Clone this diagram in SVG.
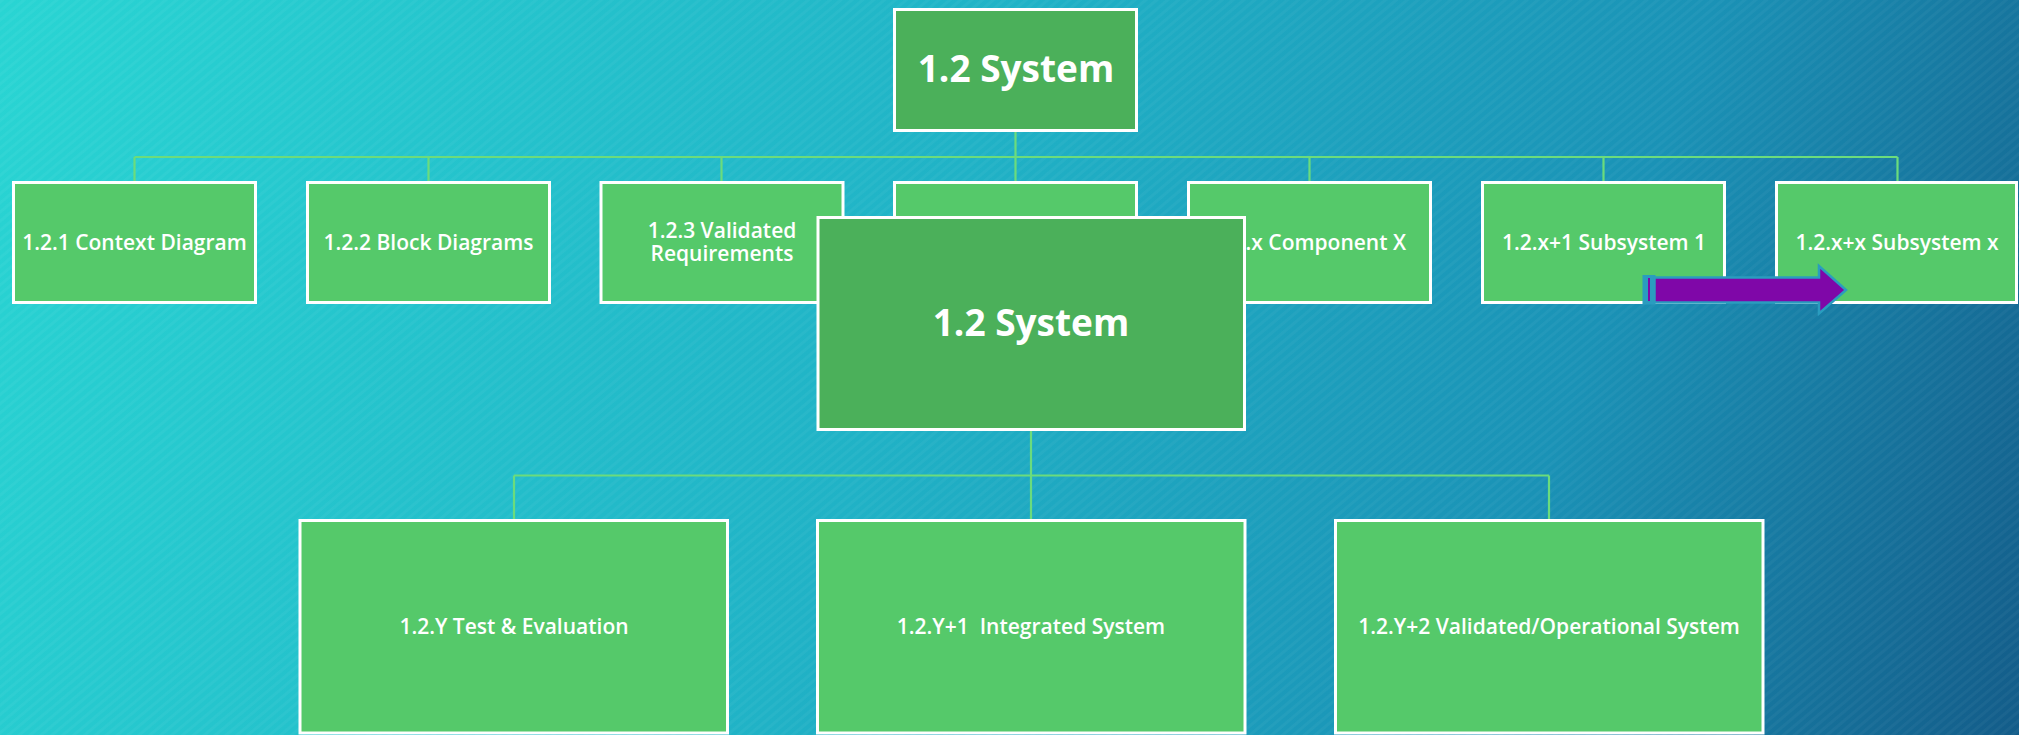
<svg xmlns="http://www.w3.org/2000/svg" width="2019" height="735" viewBox="0 0 2019 735">
  <defs>
    <linearGradient id="bg" gradientUnits="userSpaceOnUse" x1="0" y1="0" x2="2019" y2="735">
      <stop offset="0" stop-color="#29d5d3"/>
      <stop offset="0.45" stop-color="#20b2c6"/>
      <stop offset="0.75" stop-color="#1a92b6"/>
      <stop offset="1" stop-color="#135c89"/>
    </linearGradient>
    <pattern id="stripes" patternUnits="userSpaceOnUse" width="7" height="7" patternTransform="rotate(-40)">
      <rect x="0" y="0" width="7" height="3" fill="#ffffff" fill-opacity="0.035"/>
    </pattern>
    <style>
      .leaf { fill: #55c96a; stroke: #ffffff; stroke-width: 3; }
      .root { fill: #4bb05a; stroke: #ffffff; stroke-width: 3; }
      .lbl { font-family: "Open Sans", "Liberation Sans", sans-serif; font-weight: 600; font-size: 21px; fill: #ffffff; text-anchor: middle; }
      .big { font-family: "Open Sans", "Liberation Sans", sans-serif; font-weight: 700; font-size: 37px; fill: #ffffff; text-anchor: middle; }
      .link { fill: none; stroke: #6bdc7c; stroke-width: 2.2; }
    </style>
  </defs>

  <!-- backdrop -->
  <rect x="0" y="0" width="2019" height="735" fill="url(#bg)"/>
  <rect x="0" y="0" width="2019" height="735" fill="url(#stripes)"/>

  <!-- connectors -->
  <g id="connectors">
    <path class="link" d="M1015.5 131 V157 M134.5 157 H1897.5 M134.5 157 V182 M428.5 157 V182 M721.5 157 V182 M1015.5 157 V182 M1309.5 157 V182 M1603.5 157 V182 M1897.5 157 V182"/>
    <path class="link" d="M1031 430 V475.5 M514 475.5 H1549 M514 475.5 V520 M1031 475.5 V520 M1549 475.5 V520"/>
  </g>

  <!-- top level -->
  <g id="system-top">
    <rect class="root" x="894.5" y="9.5" width="242" height="121"/>
    <text class="big" x="1016" y="82">1.2 System</text>
  </g>

  <!-- first tier -->
  <g id="context-diagram">
    <rect class="leaf" x="13.5" y="182.5" width="242" height="120"/>
    <text class="lbl" x="134.5" y="250">1.2.1 Context Diagram</text>
  </g>
  <g id="block-diagrams">
    <rect class="leaf" x="307.5" y="182.5" width="242" height="120"/>
    <text class="lbl" x="428.5" y="250">1.2.2 Block Diagrams</text>
  </g>
  <g id="validated-requirements">
    <rect class="leaf" x="601" y="182.5" width="242" height="120"/>
    <text class="lbl" x="722" y="238"><tspan x="722" y="238">1.2.3 Validated</tspan><tspan x="722" y="261">Requirements</tspan></text>
  </g>
  <g id="tier-item-4">
    <rect class="leaf" x="894.5" y="182.5" width="242" height="120"/>
  </g>
  <g id="component-x">
    <rect class="leaf" x="1188.5" y="182.5" width="242" height="120"/>
    <text class="lbl" x="1406" y="250" style="text-anchor:end">.x Component X</text>
  </g>
  <g id="subsystem-1">
    <rect class="leaf" x="1482.5" y="182.5" width="242" height="120"/>
    <text class="lbl" x="1604" y="250">1.2.x+1 Subsystem 1</text>
  </g>
  <g id="subsystem-x">
    <rect class="leaf" x="1776.5" y="182.5" width="240" height="120"/>
    <text class="lbl" x="1897" y="250">1.2.x+x Subsystem x</text>
  </g>

  <!-- progression arrow -->
  <g id="arrow">
    <rect x="1642.5" y="275" width="13" height="29.5" fill="#2a9cbf"/>
    <rect x="1648" y="278" width="2" height="23" fill="#7f07a8"/>
    <path d="M1654.5 277.5 H1819 V266 L1846 290 L1819 313.5 V302.5 H1654.5 Z" fill="#7f07a8" stroke="#2a9cbf" stroke-width="2.5" stroke-linejoin="miter"/>
  </g>

  <!-- overlaid system box -->
  <g id="system-mid">
    <rect class="root" x="818" y="217.5" width="426.5" height="212"/>
    <text class="big" x="1031" y="336">1.2 System</text>
  </g>

  <!-- second tier -->
  <g id="test-evaluation">
    <rect class="leaf" x="300" y="520.5" width="427.5" height="212.5"/>
    <text class="lbl" x="514" y="634">1.2.Y Test &amp; Evaluation</text>
  </g>
  <g id="integrated-system">
    <rect class="leaf" x="817.5" y="520.5" width="427.5" height="212.5"/>
    <text class="lbl" x="1031" y="634" xml:space="preserve">1.2.Y+1  Integrated System</text>
  </g>
  <g id="operational-system">
    <rect class="leaf" x="1335.5" y="520.5" width="427.5" height="212.5"/>
    <text class="lbl" x="1549" y="634">1.2.Y+2 Validated/Operational System</text>
  </g>
</svg>
